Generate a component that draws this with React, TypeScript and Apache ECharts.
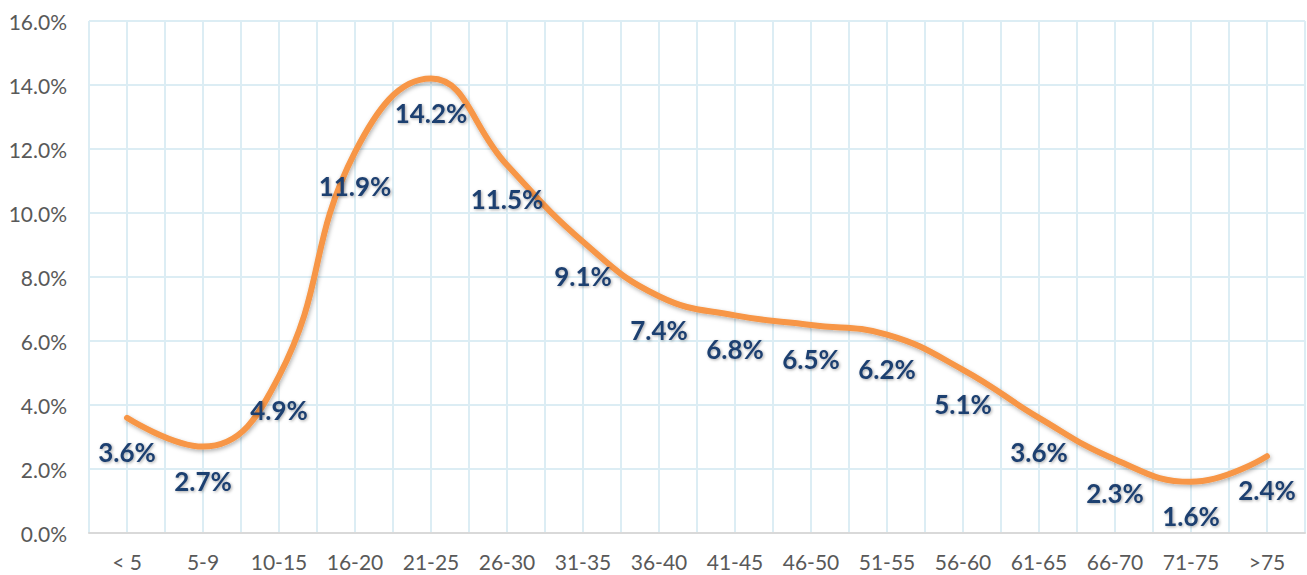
import React, { useEffect, useRef } from "react";
import * as echarts from "echarts";

const categories = ["< 5", "5-9", "10-15", "16-20", "21-25", "26-30", "31-35", "36-40", "41-45", "46-50", "51-55", "56-60", "61-65", "66-70", "71-75", ">75"];
const values = [3.6, 2.7, 4.9, 11.9, 14.2, 11.5, 9.1, 7.4, 6.8, 6.5, 6.2, 5.1, 3.6, 2.3, 1.6, 2.4];
const yMin = 0;
const yMax = 16;
const yStep = 2;

export default function App() {
  const ref = useRef<HTMLDivElement>(null);
  useEffect(() => {
    if (!ref.current) return;
    const chart = echarts.init(ref.current, undefined, { renderer: "svg" });
    const gridColor = "#dcedf4";
    chart.setOption({
      animation: false,
      backgroundColor: "#ffffff",
      grid: { left: 89, right: 2, top: 21, bottom: 42, containLabel: false },
      xAxis: [
        {
          type: "category",
          data: categories,
          boundaryGap: true,
          axisLine: { show: true, lineStyle: { color: "#d9d9d9", width: 2 } },
          axisTick: { show: false },
          splitLine: { show: false },
          axisLabel: { color: "#595959", fontSize: 21, fontFamily: "Lato", margin: 18, interval: 0 },
          z: 3,
        },
        {
          type: "value",
          min: 0,
          max: categories.length * 2,
          interval: 1,
          position: "bottom",
          show: true,
          axisLine: { show: false },
          axisTick: { show: false },
          axisLabel: { show: false },
          splitLine: { show: true, lineStyle: { color: gridColor, width: 2 } },
        },
      ],
      yAxis: {
        type: "value",
        min: yMin,
        max: yMax,
        interval: yStep,
        axisLine: { show: false },
        axisTick: { show: false },
        axisLabel: {
          color: "#595959",
          fontSize: 21,
          fontFamily: "Lato",
          margin: 22,
          formatter: (v: number) => v.toFixed(1) + "%",
        },
        splitLine: { show: true, lineStyle: { color: gridColor, width: 2 } },
      },
      series: [
        {
          type: "line",
          xAxisIndex: 0,
          data: values,
          smooth: 0.45,
          symbol: "circle",
          symbolSize: 0,
          showSymbol: true,
          lineStyle: {
            color: "#f79646",
            width: 6,
            cap: "round",
            shadowColor: "rgba(0,0,0,0.3)",
            shadowBlur: 4,
            shadowOffsetX: 1,
            shadowOffsetY: 2,
          },
          itemStyle: { color: "#f79646" },
          label: {
            show: true,
            position: "bottom",
            distance: 21,
            color: "#1f3f70",
            fontSize: 26,
            fontWeight: "bold",
            fontFamily: "Lato",
            textShadowColor: "rgba(0,0,0,0.35)",
            textShadowBlur: 3,
            textShadowOffsetX: 1,
            textShadowOffsetY: 1,
            formatter: (p: any) => p.value.toFixed(1) + "%",
          },
          z: 5,
        },
      ],
    });
    return () => chart.dispose();
  }, []);
  return (
    <div
      ref={ref}
      style={{ position: "fixed", left: 0, top: 0, width: 1307, height: 575, background: "#fff" }}
    />
  );
}
